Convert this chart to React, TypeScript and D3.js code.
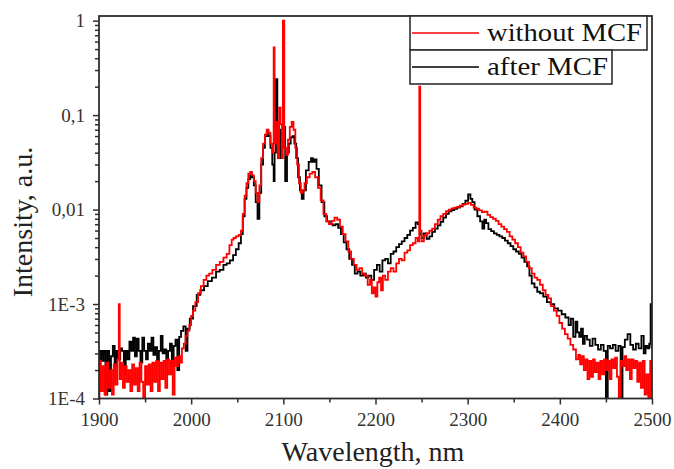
import React, { useRef, useEffect } from 'react';
import * as d3 from 'd3';

// tick values and labels
const xTicks = [1900, 2000, 2100, 2200, 2300, 2400, 2500];
const xMinorTicks = [1950, 2050, 2150, 2250, 2350, 2450];
const yTicks = [1e-4, 1e-3, 1e-2, 1e-1, 1];
const yTickLabels = ['1E-4', '1E-3', '0,01', '0,1', '1'];

const seriesNames = ['without MCF', 'after MCF'];

// [wavelength nm, intensity a.u.]
const afterMCF: [number, number][] = [
  [1900, 2.0e-4], [1902, 3.2e-4], [1904, 2.5e-4], [1906, 3.2e-4], [1908, 1.1e-4], [1910, 3.2e-4],
  [1912, 1.2e-4], [1914, 2.8e-4], [1916, 3.6e-4], [1918, 2.2e-4], [1920, 3.2e-4], [1922, 2.6e-4],
  [1924, 3.4e-4], [1926, 3.2e-4], [1928, 1.8e-4], [1930, 3.2e-4], [1932, 2.6e-4], [1934, 4.0e-4],
  [1936, 3.2e-4], [1938, 4.4e-4], [1940, 2.8e-4], [1942, 4.3e-4], [1944, 3.2e-4], [1946, 2.4e-4],
  [1948, 4.4e-4], [1950, 3.2e-4], [1952, 2.6e-4], [1954, 3.8e-4], [1956, 3.2e-4], [1958, 4.4e-4],
  [1960, 2.9e-4], [1962, 3.5e-4], [1964, 2.5e-4], [1966, 3.2e-4], [1968, 4.6e-4], [1970, 3.0e-4],
  [1972, 3.3e-4], [1974, 2.6e-4], [1976, 3.2e-4], [1978, 3.8e-4], [1980, 2.2e-4], [1982, 3.6e-4],
  [1984, 4.2e-4], [1986, 2.0e-4], [1988, 4.5e-4], [1990, 5.2e-4], [1993, 5.8e-4], [1995, 3.2e-4],
  [1997, 5.5e-4], [2000, 7.0e-4], [2004, 9.5e-4], [2008, 1.25e-3], [2012, 1.4e-3], [2016, 1.55e-3],
  [2020, 1.75e-3], [2025, 1.9e-3], [2029, 2.2e-3], [2033, 2.3e-3], [2037, 2.6e-3], [2040, 2.7e-3],
  [2044, 2.9e-3], [2047, 3.3e-3], [2050, 3.8e-3], [2053, 4.4e-3], [2055, 5.5e-3], [2057, 8.5e-3],
  [2059, 1.3e-2], [2061, 1.7e-2], [2063, 2.1e-2], [2065, 2.3e-2], [2067, 2.2e-2], [2069, 1.8e-2],
  [2071, 1.2e-2], [2073, 8.0e-3], [2075, 1.5e-2], [2077, 3.0e-2], [2079, 4.5e-2], [2081, 6.0e-2],
  [2083, 6.6e-2], [2085, 6.0e-2], [2087, 4.5e-2], [2089, 3.0e-2], [2090, 2.0e-2], [2091, 4.0e-2],
  [2093, 2.4e-1], [2094, 5.0e-2], [2096, 7.0e-2], [2098, 3.5e-2], [2099, 6.5e-2], [2101, 7.5e-2],
  [2103, 2.0e-2], [2105, 4.0e-2], [2107, 5.0e-2], [2109, 5.8e-2], [2111, 6.0e-2], [2113, 5.0e-2],
  [2115, 3.5e-2], [2117, 2.2e-2], [2119, 1.6e-2], [2121, 1.3e-2], [2123, 1.6e-2], [2126, 2.6e-2],
  [2129, 3.2e-2], [2131, 3.5e-2], [2133, 3.2e-2], [2135, 3.4e-2], [2137, 2.7e-2], [2140, 1.8e-2],
  [2143, 1.2e-2], [2146, 8.5e-3], [2149, 7.5e-3], [2152, 7.0e-3], [2155, 6.8e-3], [2158, 7.0e-3],
  [2161, 6.4e-3], [2164, 5.5e-3], [2167, 4.5e-3], [2170, 3.8e-3], [2173, 3.0e-3], [2176, 2.6e-3],
  [2179, 2.1e-3], [2182, 2.2e-3], [2185, 2.0e-3], [2188, 2.1e-3], [2191, 1.9e-3], [2194, 2.0e-3],
  [2197, 1.8e-3], [2200, 2.3e-3], [2203, 2.6e-3], [2206, 2.2e-3], [2209, 2.9e-3], [2212, 3.0e-3],
  [2215, 2.7e-3], [2218, 3.4e-3], [2221, 3.6e-3], [2224, 4.0e-3], [2227, 4.3e-3], [2230, 4.6e-3],
  [2233, 5.0e-3], [2236, 5.4e-3], [2239, 6.0e-3], [2242, 6.4e-3], [2245, 7.3e-3], [2247, 7.0e-3],
  [2249, 5.5e-3], [2251, 5.0e-3], [2254, 5.6e-3], [2257, 4.9e-3], [2260, 5.2e-3], [2263, 5.8e-3],
  [2266, 6.3e-3], [2269, 6.8e-3], [2272, 7.4e-3], [2275, 8.2e-3], [2278, 9.0e-3], [2281, 9.6e-3],
  [2284, 9.9e-3], [2287, 1.02e-2], [2290, 1.05e-2], [2293, 1.08e-2], [2296, 1.15e-2], [2299, 1.24e-2],
  [2302, 1.45e-2], [2304, 1.3e-2], [2306, 1.2e-2], [2309, 1.0e-2], [2312, 8.5e-3], [2315, 7.5e-3],
  [2317, 6.3e-3], [2319, 7.8e-3], [2321, 7.2e-3], [2324, 6.2e-3], [2327, 5.9e-3], [2330, 5.6e-3],
  [2333, 5.4e-3], [2336, 5.2e-3], [2339, 5.0e-3], [2342, 4.7e-3], [2345, 4.4e-3], [2348, 4.1e-3],
  [2351, 3.8e-3], [2354, 3.6e-3], [2357, 3.4e-3], [2360, 3.1e-3], [2363, 2.8e-3], [2366, 2.5e-3],
  [2368, 2.0e-3], [2371, 1.65e-3], [2374, 1.5e-3], [2377, 1.35e-3], [2380, 1.3e-3], [2384, 1.2e-3],
  [2388, 1.05e-3], [2392, 1.0e-3], [2396, 9.0e-4], [2400, 8.5e-4], [2404, 7.8e-4], [2408, 7.2e-4],
  [2411, 6.0e-4], [2413, 7.0e-4], [2416, 4.5e-4], [2418, 6.5e-4], [2420, 5.0e-4], [2422, 4.5e-4],
  [2424, 5.5e-4], [2426, 3.8e-4], [2428, 4.6e-4], [2431, 4.2e-4], [2434, 3.6e-4], [2437, 4.3e-4],
  [2440, 3.7e-4], [2443, 3.3e-4], [2446, 3.7e-4], [2449, 3.2e-4], [2451, 1.0e-4], [2453, 3.6e-4],
  [2456, 3.4e-4], [2459, 3.7e-4], [2462, 3.2e-4], [2465, 3.6e-4], [2467, 1.0e-4], [2469, 3.5e-4],
  [2472, 4.2e-4], [2475, 4.8e-4], [2478, 3.7e-4], [2481, 3.3e-4], [2484, 3.8e-4], [2487, 3.4e-4],
  [2490, 4.6e-4], [2492, 3.0e-4], [2494, 3.6e-4], [2496, 3.4e-4], [2498, 3.8e-4], [2499, 1.0e-3],
  [2500, 3.5e-4],
];

const withoutMCF: [number, number][] = [
  [1900, 1.0e-4], [1901, 2.5e-4], [1903, 1.2e-4], [1905, 2.2e-4], [1907, 1.1e-4], [1909, 2.4e-4],
  [1911, 1.3e-4], [1913, 2.0e-4], [1915, 1.1e-4], [1917, 2.3e-4], [1919, 1.4e-4], [1921, 2.6e-4],
  [1922, 1.0e-3], [1923, 1.6e-4], [1925, 2.4e-4], [1927, 1.3e-4], [1929, 2.2e-4], [1931, 1.5e-4],
  [1933, 2.0e-4], [1935, 1.2e-4], [1937, 2.3e-4], [1939, 1.4e-4], [1941, 2.1e-4], [1943, 1.2e-4],
  [1945, 2.4e-4], [1947, 1.5e-4], [1949, 1.0e-4], [1951, 2.2e-4], [1953, 1.4e-4], [1955, 2.3e-4],
  [1957, 1.2e-4], [1959, 2.4e-4], [1961, 1.5e-4], [1963, 2.5e-4], [1965, 1.2e-4], [1967, 2.4e-4],
  [1969, 1.6e-4], [1971, 2.5e-4], [1973, 1.3e-4], [1975, 2.6e-4], [1977, 1.8e-4], [1979, 2.5e-4],
  [1981, 1.1e-4], [1983, 2.7e-4], [1985, 2.2e-4], [1987, 2.8e-4], [1989, 2.4e-4], [1991, 3.4e-4],
  [1993, 3.8e-4], [1995, 4.6e-4], [1997, 5.2e-4], [1999, 6.0e-4], [2001, 7.5e-4], [2003, 8.5e-4],
  [2006, 1.05e-3], [2009, 1.3e-3], [2012, 1.55e-3], [2015, 1.8e-3], [2018, 2.0e-3], [2021, 2.1e-3],
  [2025, 2.3e-3], [2029, 2.6e-3], [2033, 2.8e-3], [2037, 3.1e-3], [2040, 3.4e-3], [2043, 4.2e-3],
  [2045, 4.8e-3], [2047, 5.0e-3], [2050, 5.2e-3], [2053, 5.4e-3], [2055, 6.0e-3], [2057, 9.0e-3],
  [2059, 1.4e-2], [2061, 1.9e-2], [2063, 2.4e-2], [2065, 2.5e-2], [2067, 2.3e-2], [2069, 2.0e-2],
  [2071, 1.5e-2], [2073, 1.2e-2], [2075, 1.8e-2], [2077, 3.5e-2], [2079, 5.0e-2], [2081, 6.2e-2],
  [2083, 7.0e-2], [2085, 6.5e-2], [2087, 5.0e-2], [2089, 4.0e-2], [2090, 5.2e-1], [2091, 5.0e-2],
  [2093, 8.5e-2], [2095, 3.5e-2], [2096, 1.2e-1], [2098, 8.0e-2], [2099, 3.5e-2], [2100, 1.0],
  [2102, 4.5e-2], [2104, 3.8e-2], [2106, 5.5e-2], [2108, 7.5e-2], [2110, 8.5e-2], [2112, 7.0e-2],
  [2114, 4.5e-2], [2116, 3.0e-2], [2118, 1.9e-2], [2120, 1.5e-2], [2122, 1.6e-2], [2124, 1.9e-2],
  [2127, 2.2e-2], [2130, 2.4e-2], [2133, 2.5e-2], [2136, 2.2e-2], [2139, 1.7e-2], [2142, 1.25e-2],
  [2145, 9.0e-3], [2148, 7.5e-3], [2151, 7.0e-3], [2154, 7.6e-3], [2157, 8.2e-3], [2160, 7.8e-3],
  [2163, 6.6e-3], [2166, 5.5e-3], [2169, 4.6e-3], [2172, 3.6e-3], [2175, 3.0e-3], [2178, 2.6e-3],
  [2181, 2.3e-3], [2184, 2.4e-3], [2187, 2.1e-3], [2190, 2.0e-3], [2193, 1.6e-3], [2195, 1.8e-3],
  [2197, 1.3e-3], [2199, 1.5e-3], [2201, 1.2e-3], [2203, 1.7e-3], [2205, 1.9e-3], [2207, 1.4e-3],
  [2209, 2.0e-3], [2212, 1.8e-3], [2215, 2.2e-3], [2218, 2.4e-3], [2221, 2.2e-3], [2224, 2.7e-3],
  [2227, 3.0e-3], [2230, 2.9e-3], [2233, 3.5e-3], [2236, 3.7e-3], [2239, 4.2e-3], [2242, 4.4e-3],
  [2245, 5.0e-3], [2247, 4.6e-3], [2248, 2.0e-1], [2249, 6.0e-3], [2251, 4.6e-3], [2254, 5.3e-3],
  [2257, 5.6e-3], [2260, 6.0e-3], [2263, 6.3e-3], [2266, 7.0e-3], [2269, 7.8e-3], [2272, 8.5e-3],
  [2275, 9.0e-3], [2278, 9.6e-3], [2281, 1.0e-2], [2284, 1.03e-2], [2287, 1.05e-2], [2290, 1.07e-2],
  [2293, 1.1e-2], [2296, 1.13e-2], [2299, 1.15e-2], [2302, 1.18e-2], [2305, 1.12e-2], [2308, 1.05e-2],
  [2311, 1.02e-2], [2314, 9.8e-3], [2317, 9.4e-3], [2320, 9.5e-3], [2323, 8.8e-3], [2326, 8.3e-3],
  [2329, 8.0e-3], [2332, 7.6e-3], [2335, 7.0e-3], [2338, 6.6e-3], [2341, 6.2e-3], [2344, 5.8e-3],
  [2347, 5.2e-3], [2350, 4.8e-3], [2353, 4.4e-3], [2356, 4.0e-3], [2359, 3.5e-3], [2362, 3.2e-3],
  [2365, 2.8e-3], [2368, 2.4e-3], [2371, 2.1e-3], [2374, 1.9e-3], [2377, 1.8e-3], [2380, 1.6e-3],
  [2383, 1.4e-3], [2386, 1.25e-3], [2389, 1.15e-3], [2392, 9.5e-4], [2395, 8.5e-4], [2398, 7.5e-4],
  [2401, 6.3e-4], [2404, 5.5e-4], [2407, 4.8e-4], [2410, 4.3e-4], [2413, 3.7e-4], [2416, 3.3e-4],
  [2419, 2.6e-4], [2421, 2.9e-4], [2423, 2.3e-4], [2425, 2.8e-4], [2427, 2.0e-4], [2429, 2.6e-4],
  [2431, 1.6e-4], [2433, 2.5e-4], [2435, 1.7e-4], [2437, 2.6e-4], [2439, 1.9e-4], [2441, 2.4e-4],
  [2443, 1.6e-4], [2445, 2.5e-4], [2447, 1.8e-4], [2449, 2.6e-4], [2451, 2.0e-4], [2453, 2.5e-4],
  [2455, 1.6e-4], [2457, 2.6e-4], [2459, 2.1e-4], [2461, 2.7e-4], [2463, 1.7e-4], [2465, 1.0e-4],
  [2467, 2.5e-4], [2469, 2.2e-4], [2471, 2.8e-4], [2473, 2.0e-4], [2475, 2.6e-4], [2477, 1.6e-4],
  [2479, 2.6e-4], [2481, 2.1e-4], [2483, 2.5e-4], [2485, 1.5e-4], [2487, 2.4e-4], [2489, 1.3e-4],
  [2491, 2.5e-4], [2493, 1.1e-4], [2495, 1.8e-4], [2497, 1.0e-4], [2499, 2.5e-4], [2500, 1.2e-4],
];

const seriesColors = ['#ff0000', '#000000'];

const W = 674;
const H = 469;
const plot = { left: 99, right: 652, top: 16, bottom: 398.5 };
const serif = '"Liberation Serif", "Times New Roman", serif';
const axisColor = '#2e2e2e';

const App = () => {
  const svgRef = useRef<SVGSVGElement>(null);

  useEffect(() => {
    document.body.style.margin = '0';
    const svg = d3.select(svgRef.current);
    svg.selectAll('*').remove();

    const x = d3.scaleLinear().domain([1900, 2500]).range([plot.left, plot.right]);
    const y = d3.scaleLog().domain([1e-4, 1.12]).range([plot.bottom, plot.top]);

    svg.append('clipPath').attr('id', 'plotClip')
      .append('rect')
      .attr('x', plot.left).attr('y', plot.top)
      .attr('width', plot.right - plot.left).attr('height', plot.bottom - plot.top);

    // the spectra are binned, so draw them as steps
    const line = d3.line<[number, number]>()
      .x((d) => x(d[0]))
      .y((d) => y(d[1]))
      .curve(d3.curveStep);

    // black first, red on top
    const lines = svg.append('g').attr('clip-path', 'url(#plotClip)');
    lines.append('path')
      .datum(afterMCF)
      .attr('fill', 'none')
      .attr('stroke', seriesColors[1])
      .attr('stroke-width', 1.8)
      .attr('d', line);
    lines.append('path')
      .datum(withoutMCF)
      .attr('fill', 'none')
      .attr('stroke', seriesColors[0])
      .attr('stroke-width', 1.8)
      .attr('d', line);

    // minor ticks
    const minorY: number[] = [];
    for (let e = -4; e < 0; e++) {
      for (let k = 2; k <= 9; k++) minorY.push(k * Math.pow(10, e));
    }
    svg.append('g')
      .attr('transform', `translate(${plot.left},0)`)
      .call(d3.axisLeft(y).tickValues(minorY).tickSize(4).tickFormat(() => ''))
      .call((g) => g.select('.domain').remove())
      .selectAll('line').attr('stroke', axisColor).attr('stroke-width', 1.5);
    svg.append('g')
      .attr('transform', `translate(0,${plot.bottom})`)
      .call(d3.axisBottom(x).tickValues(xMinorTicks).tickSize(4).tickFormat(() => ''))
      .call((g) => g.select('.domain').remove())
      .selectAll('line').attr('stroke', axisColor).attr('stroke-width', 1.5);

    // major axes
    const yAxis = svg.append('g')
      .attr('transform', `translate(${plot.left},0)`)
      .call(d3.axisLeft(y).tickValues(yTicks).tickSize(6).tickPadding(8)
        .tickFormat((d, i) => yTickLabels[i]));
    yAxis.select('.domain').remove();
    yAxis.selectAll('line').attr('stroke', axisColor).attr('stroke-width', 1.5);
    yAxis.selectAll('text')
      .attr('font-family', serif).attr('font-size', 19).attr('fill', '#333');

    const xAxis = svg.append('g')
      .attr('transform', `translate(0,${plot.bottom})`)
      .call(d3.axisBottom(x).tickValues(xTicks).tickSize(6).tickPadding(8)
        .tickFormat(d3.format('d')));
    xAxis.select('.domain').remove();
    xAxis.selectAll('line').attr('stroke', axisColor).attr('stroke-width', 1.5);
    xAxis.selectAll('text')
      .attr('font-family', serif).attr('font-size', 19).attr('fill', '#333');

    // frame
    svg.append('rect')
      .attr('x', plot.left).attr('y', plot.top)
      .attr('width', plot.right - plot.left).attr('height', plot.bottom - plot.top)
      .attr('fill', 'none').attr('stroke', axisColor).attr('stroke-width', 1.8);

    // axis titles
    svg.append('text')
      .attr('x', 373).attr('y', 461)
      .attr('text-anchor', 'middle')
      .attr('font-family', serif).attr('font-size', 28).attr('fill', '#222')
      .text('Wavelength, nm');
    svg.append('text')
      .attr('transform', 'translate(32,222) rotate(-90)')
      .attr('text-anchor', 'middle')
      .attr('font-family', serif).attr('font-size', 28).attr('fill', '#222')
      .text('Intensity, a.u.');

    // legend
    const legendRows = [
      { y: 16, w: 237, textLen: 155 },
      { y: 50, w: 202, textLen: 121 },
    ];
    const legend = svg.append('g');
    legendRows.forEach((r, i) => {
      legend.append('rect')
        .attr('x', 410).attr('y', r.y).attr('width', r.w).attr('height', 34)
        .attr('fill', '#fff').attr('stroke', axisColor).attr('stroke-width', 1.6);
      legend.append('line')
        .attr('x1', 412).attr('x2', 479).attr('y1', r.y + 17).attr('y2', r.y + 17)
        .attr('stroke', seriesColors[i]).attr('stroke-width', 1.5);
      legend.append('text')
        .attr('x', 487).attr('y', r.y + 25)
        .attr('font-family', serif).attr('font-size', 25).attr('fill', '#111')
        .attr('textLength', r.textLen).attr('lengthAdjust', 'spacingAndGlyphs')
        .text(seriesNames[i]);
    });
  }, []);

  return (
    <div style={{ width: W, height: H }}>
      <svg ref={svgRef} width={W} height={H} style={{ display: 'block', background: '#fff' }} />
    </div>
  );
};

export default App;
